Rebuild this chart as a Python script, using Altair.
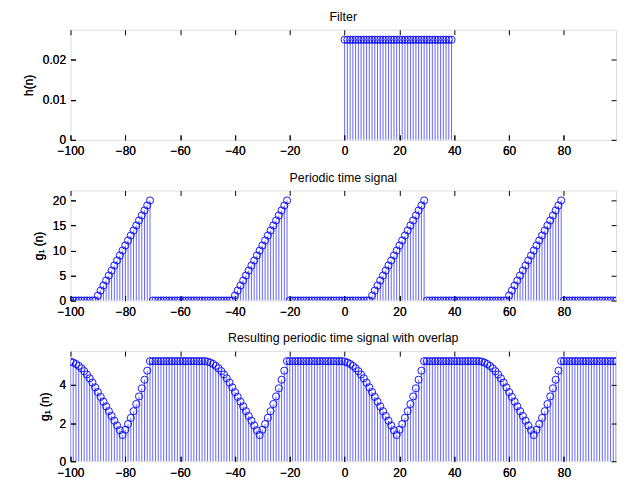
import altair as alt
import pandas as pd

# ---------------- data ----------------
n_vals = list(range(-100, 100))

h_n = [0, 1, 2, 3, 4, 5, 6, 7, 8, 9, 10, 11, 12, 13, 14, 15, 16, 17, 18, 19,
       20, 21, 22, 23, 24, 25, 26, 27, 28, 29, 30, 31, 32, 33, 34, 35, 36, 37, 38, 39]
h_vals = [0.025, 0.025, 0.025, 0.025, 0.025, 0.025, 0.025, 0.025, 0.025, 0.025,
          0.025, 0.025, 0.025, 0.025, 0.025, 0.025, 0.025, 0.025, 0.025, 0.025,
          0.025, 0.025, 0.025, 0.025, 0.025, 0.025, 0.025, 0.025, 0.025, 0.025,
          0.025, 0.025, 0.025, 0.025, 0.025, 0.025, 0.025, 0.025, 0.025, 0.025]

g_vals = [
    0, 0, 0, 0, 0, 0, 0, 0, 0, 0, 1, 2, 3, 4, 5, 6, 7, 8, 9, 10, 11, 12, 13, 14, 15, 16, 17, 18, 19, 20,
    0, 0, 0, 0, 0, 0, 0, 0, 0, 0, 0, 0, 0, 0, 0, 0, 0, 0, 0, 0,
    0, 0, 0, 0, 0, 0, 0, 0, 0, 0, 1, 2, 3, 4, 5, 6, 7, 8, 9, 10, 11, 12, 13, 14, 15, 16, 17, 18, 19, 20,
    0, 0, 0, 0, 0, 0, 0, 0, 0, 0, 0, 0, 0, 0, 0, 0, 0, 0, 0, 0,
    0, 0, 0, 0, 0, 0, 0, 0, 0, 0, 1, 2, 3, 4, 5, 6, 7, 8, 9, 10, 11, 12, 13, 14, 15, 16, 17, 18, 19, 20,
    0, 0, 0, 0, 0, 0, 0, 0, 0, 0, 0, 0, 0, 0, 0, 0, 0, 0, 0, 0,
    0, 0, 0, 0, 0, 0, 0, 0, 0, 0, 1, 2, 3, 4, 5, 6, 7, 8, 9, 10, 11, 12, 13, 14, 15, 16, 17, 18, 19, 20,
    0, 0, 0, 0, 0, 0, 0, 0, 0, 0, 0, 0, 0, 0, 0, 0, 0, 0, 0, 0,
]

y_vals = [
    5.225, 5.175, 5.1, 5.0, 4.875, 4.725, 4.55, 4.35, 4.125, 3.875,
    3.625, 3.375, 3.125, 2.875, 2.625, 2.375, 2.125, 1.875, 1.625, 1.375,
    1.65, 1.95, 2.275, 2.625, 3.0, 3.4, 3.825, 4.275, 4.75, 5.25,
    5.25, 5.25, 5.25, 5.25, 5.25, 5.25, 5.25, 5.25, 5.25, 5.25,
    5.25, 5.25, 5.25, 5.25, 5.25, 5.25, 5.25, 5.25, 5.25, 5.25,
    5.225, 5.175, 5.1, 5.0, 4.875, 4.725, 4.55, 4.35, 4.125, 3.875,
    3.625, 3.375, 3.125, 2.875, 2.625, 2.375, 2.125, 1.875, 1.625, 1.375,
    1.65, 1.95, 2.275, 2.625, 3.0, 3.4, 3.825, 4.275, 4.75, 5.25,
    5.25, 5.25, 5.25, 5.25, 5.25, 5.25, 5.25, 5.25, 5.25, 5.25,
    5.25, 5.25, 5.25, 5.25, 5.25, 5.25, 5.25, 5.25, 5.25, 5.25,
    5.225, 5.175, 5.1, 5.0, 4.875, 4.725, 4.55, 4.35, 4.125, 3.875,
    3.625, 3.375, 3.125, 2.875, 2.625, 2.375, 2.125, 1.875, 1.625, 1.375,
    1.65, 1.95, 2.275, 2.625, 3.0, 3.4, 3.825, 4.275, 4.75, 5.25,
    5.25, 5.25, 5.25, 5.25, 5.25, 5.25, 5.25, 5.25, 5.25, 5.25,
    5.25, 5.25, 5.25, 5.25, 5.25, 5.25, 5.25, 5.25, 5.25, 5.25,
    5.225, 5.175, 5.1, 5.0, 4.875, 4.725, 4.55, 4.35, 4.125, 3.875,
    3.625, 3.375, 3.125, 2.875, 2.625, 2.375, 2.125, 1.875, 1.625, 1.375,
    1.65, 1.95, 2.275, 2.625, 3.0, 3.4, 3.825, 4.275, 4.75, 5.25,
    5.25, 5.25, 5.25, 5.25, 5.25, 5.25, 5.25, 5.25, 5.25, 5.25,
    5.25, 5.25, 5.25, 5.25, 5.25, 5.25, 5.25, 5.25, 5.25, 5.25,
]

x_ticks = [-100, -80, -60, -40, -20, 0, 20, 40, 60, 80]

titles = ["Filter", "Periodic time signal", "Resulting periodic time signal with overlap"]
ytitles = ["h(n)", "g\u2081 (n)", "g\u2081 (n)"]
ydomains = [[0, 0.0275], [0, 22], [0, 5.775]]
yticks = [[0, 0.01, 0.02], [0, 5, 10, 15, 20], [0, 2, 4]]

FONT = "Liberation Sans"
BLUE = "#0000ff"
W, H = 550, 111


def panel(nn, vv, title, ytitle, ydom, ytk):
    df = pd.DataFrame({"n": nn, "v": vv})
    xs = alt.Scale(domain=[-100, 99], nice=False, zero=False)
    ys = alt.Scale(domain=ydom, nice=False, zero=False)
    common = dict(offset=-5, tickSize=5, domain=False, grid=False, tickColor="black",
                  labelFont=FONT, labelFontSize=12, labelColor="black",
                  labelFlush=False, labelOverlap=False)
    xax = alt.Axis(values=x_ticks, orient="bottom", labelPadding=6, title=None, **common)
    yax = alt.Axis(values=ytk, orient="left", labelPadding=5, format="~g", title=ytitle,
                   titleFont=FONT, titleFontSize=12, titleFontWeight="normal",
                   titleColor="black", titlePadding=7, **common)
    xax2 = alt.Axis(values=x_ticks, orient="top", labels=False, title=None,
                    minExtent=0, maxExtent=0, **common)
    yax2 = alt.Axis(values=ytk, orient="right", labels=False, title=None,
                    minExtent=0, maxExtent=0, **common)

    stems = alt.Chart(df).mark_rule(color=BLUE, strokeWidth=0.6, clip=True).encode(
        x=alt.X("n:Q", scale=xs, axis=xax),
        y=alt.Y("v:Q", scale=ys, axis=yax),
        y2=alt.datum(0),
    )
    pts = alt.Chart(df).mark_point(shape="circle", filled=False, color=BLUE, size=52,
                                   strokeWidth=0.9, opacity=1, clip=True).encode(
        x=alt.X("n:Q", scale=xs, axis=xax),
        y=alt.Y("v:Q", scale=ys, axis=yax),
    )
    mirror = alt.Chart(df).mark_point(opacity=0).encode(
        x=alt.X("n:Q", scale=xs, axis=xax2),
        y=alt.Y("v:Q", scale=ys, axis=yax2),
    )
    return alt.layer(stems, pts, mirror).resolve_axis(x="independent", y="independent").properties(
        width=W, height=H,
        title=alt.TitleParams(title, font=FONT, fontSize=12.5, fontWeight="normal",
                              color="black", offset=6),
    )


p1 = panel(h_n, h_vals, titles[0], ytitles[0], ydomains[0], yticks[0])
p2 = panel(n_vals, g_vals, titles[1], ytitles[1], ydomains[1], yticks[1])
p3 = panel(n_vals, y_vals, titles[2], ytitles[2], ydomains[2], yticks[2])

chart = alt.vconcat(p1, p2, p3, spacing=51, bounds="flush").properties(
    padding={"left": 14, "top": 0, "right": 0, "bottom": 0},
).configure_view(stroke="black", strokeWidth=1).configure(background="white")

chart.save("out.html", embed_options={"renderer": "svg", "actions": False})
